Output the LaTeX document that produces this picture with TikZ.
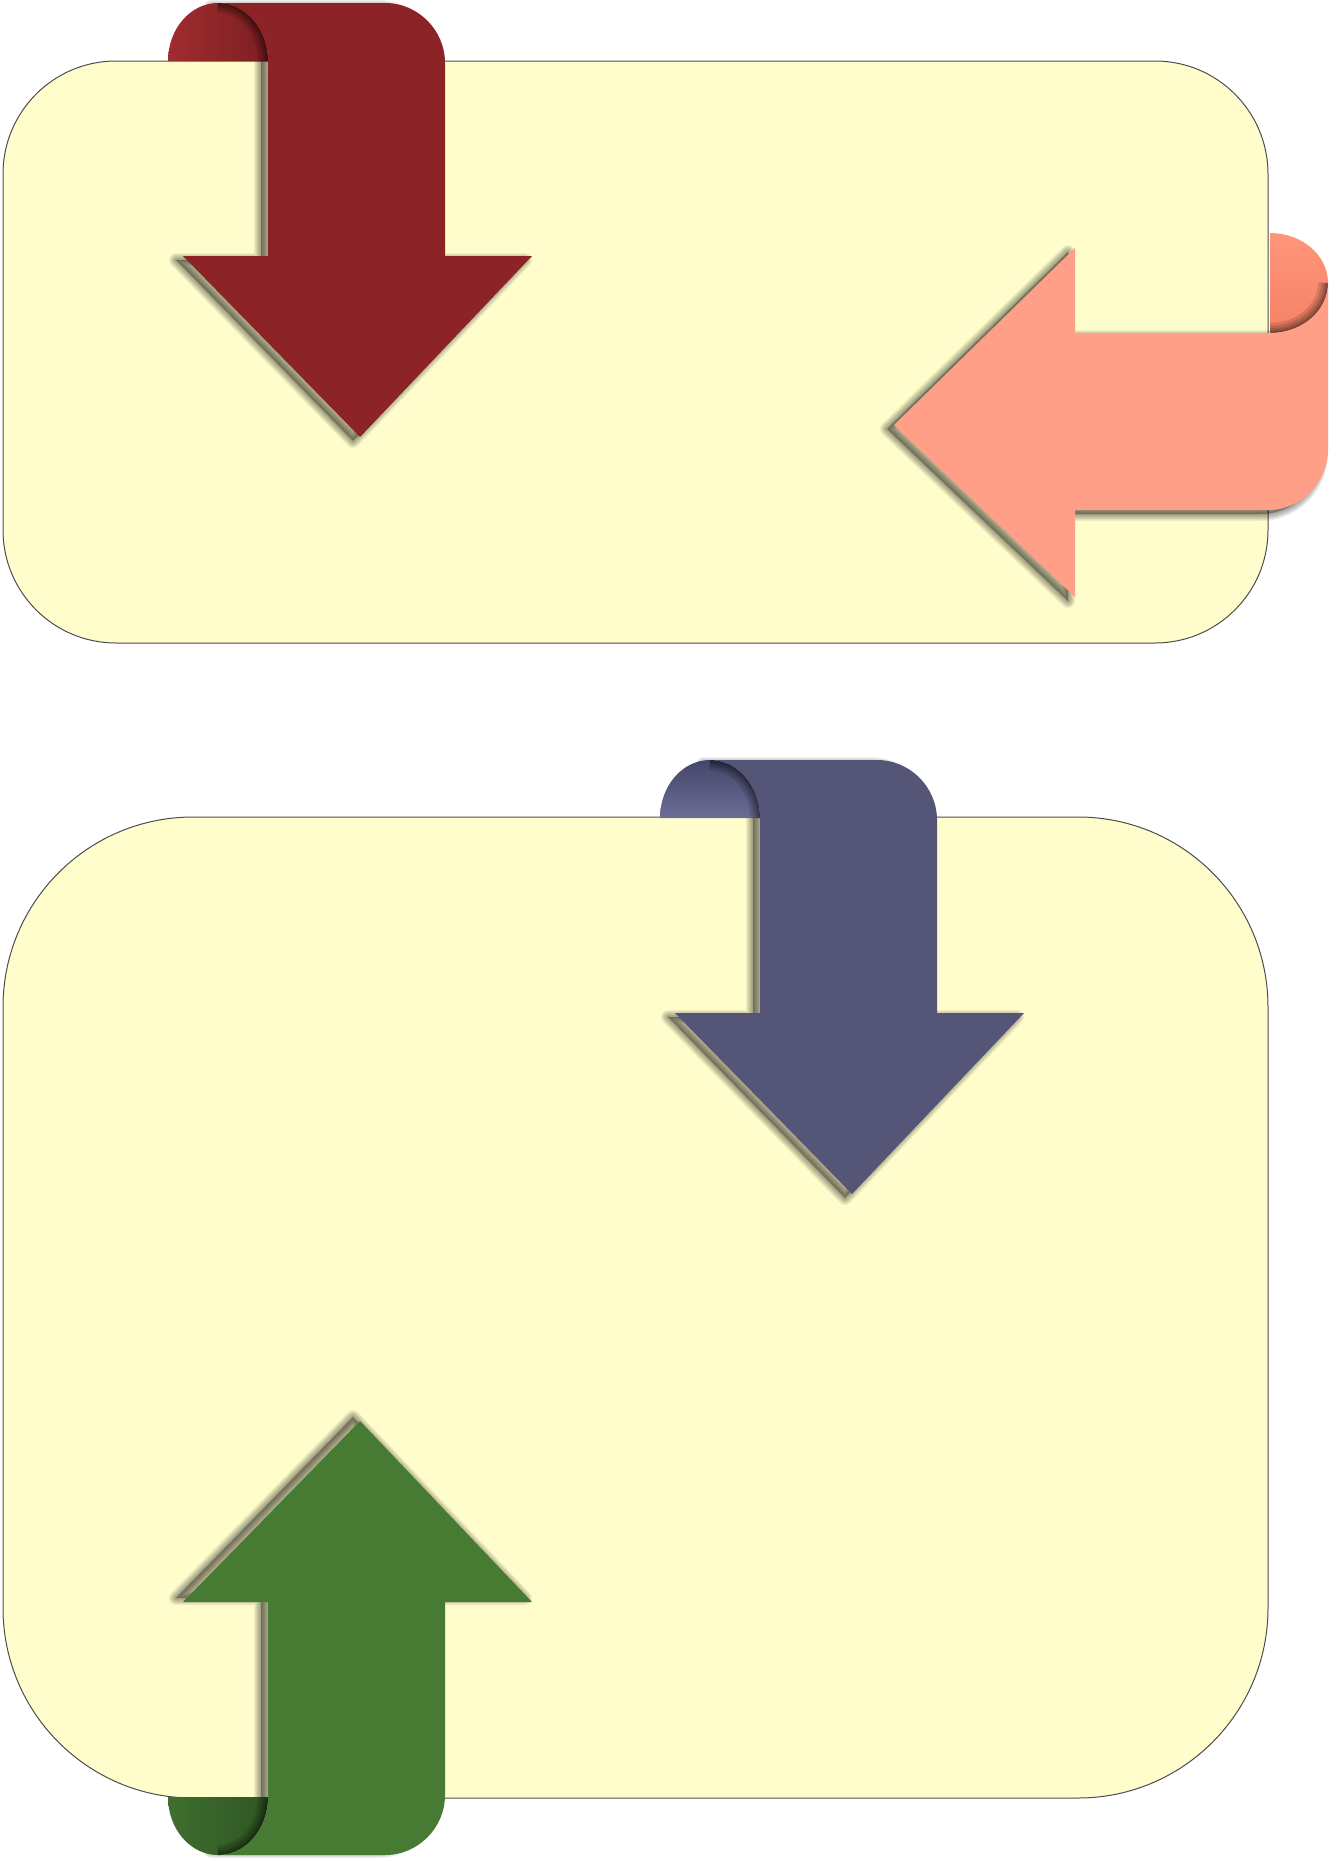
\documentclass[tikz,border=0pt]{standalone}
\definecolor{cardfill}{HTML}{FFFDCC}
\definecolor{cardline}{HTML}{4D4D4D}
\definecolor{redfront}{HTML}{8C2327}
\definecolor{redcurlA}{HTML}{A02C2E}
\definecolor{redcurlB}{HTML}{7C1F22}
\definecolor{salfront}{HTML}{FF9F87}
\definecolor{salcurlA}{HTML}{FF957A}
\definecolor{salcurlB}{HTML}{F58266}
\definecolor{bluefront}{HTML}{555577}
\definecolor{bluecurlA}{HTML}{45466A}
\definecolor{bluecurlB}{HTML}{6C6D96}
\definecolor{greenfront}{HTML}{477B34}
\definecolor{greencurlA}{HTML}{3F6F2F}
\definecolor{greencurlB}{HTML}{2E5623}
\tikzset{
  card/.style={fill=cardfill, draw=cardline, line width=1pt},
}
\newcommand\ribfrontpath{(268,256) -- (268,61) .. controls (268,29) and (245.6,3) .. (218,3) -- (385,3) .. controls (418,3) and (445,30) .. (445,63) -- (445,256) -- (532,256) -- (360,437) -- (183,256) -- cycle}
\newcommand\ribbackpath{(168,61) .. controls (168,29) and (190.4,3) .. (218,3) .. controls (245.6,3) and (268,29) .. (268,61) -- cycle}
\newcommand\ribfoldpath{(268,61) .. controls (268,29) and (245.6,3) .. (218,3)}
% #1 front colour, #2 curl shading, #3 #4 shadow offset (local)
\newcommand\ribbonarrow[4]{%
  \begin{scope}[shift={(#3,#4)}]
    \fill[black, fill opacity=0.3] \ribfrontpath;
    \foreach \w in {2,4,6,8,10,12,14}{%
      \draw[black, draw opacity=0.06, line width=\w pt, line join=round] \ribfrontpath;}
  \end{scope}
  \shade[#2] \ribbackpath;
  \begin{scope}
    \clip \ribbackpath;
    \foreach \w in {20,14,9,5,2}{%
      \draw[black, opacity=0.13, line width=\w pt] \ribfoldpath;}
  \end{scope}
  \fill[#1] \ribfrontpath;
}
\begin{document}
\begin{tikzpicture}[x=1pt,y=-1pt]
\useasboundingbox (0,0) rectangle (1338,1861);
% cards
\draw[card, rounded corners=113pt] (3,61) rectangle (1268,643);
\draw[card, rounded corners=190pt] (3,817) rectangle (1268,1798);
% red arrow (top card, pointing down)
\ribbonarrow{redfront}{left color=redcurlA, right color=redcurlB}{-7}{4}
% salmon arrow (top card, pointing left)
\begin{scope}[shift={(1331,65)}, rotate=-90]
\ribbonarrow{salfront}{top color=salcurlA, bottom color=salcurlB}{4}{7}
\end{scope}
% blue arrow (bottom card, pointing down)
\begin{scope}[shift={(492,757)}]
\ribbonarrow{bluefront}{top color=bluecurlA, bottom color=bluecurlB}{-7}{4}
\end{scope}
% green arrow (bottom card, pointing up)
\begin{scope}[shift={(0,1858)}, yscale=-1]
\ribbonarrow{greenfront}{left color=greencurlA, right color=greencurlB}{-7}{4}
\end{scope}
\end{tikzpicture}
\end{document}
